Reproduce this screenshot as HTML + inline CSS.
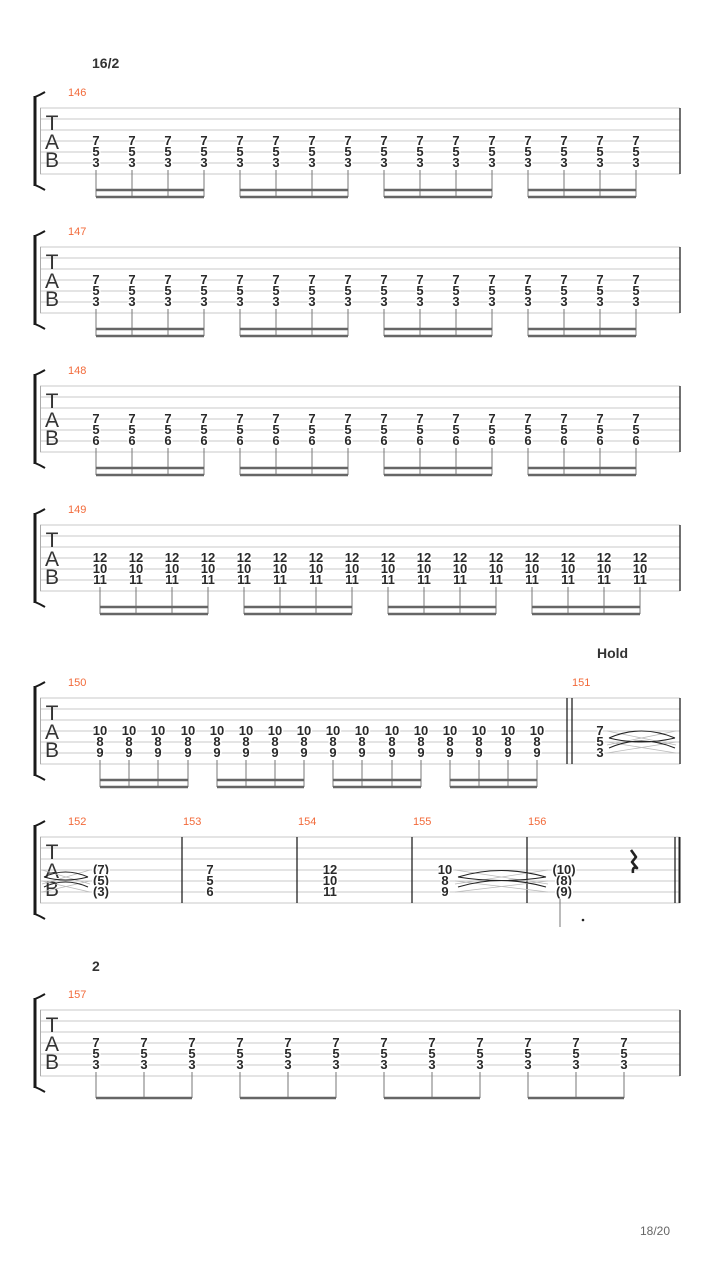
<!DOCTYPE html>
<html><head><meta charset="utf-8"><style>
html,body{margin:0;padding:0;background:#fff;}
svg{display:block;font-family:"Liberation Sans","DejaVu Sans",sans-serif;}
.n{font-size:13px;font-weight:bold;fill:#2a2a2a;text-anchor:middle;stroke:#fff;stroke-width:3px;paint-order:stroke;stroke-linejoin:round;}
.m{font-size:11px;fill:#f26a3a;}
.tab{font-size:21px;fill:#333;text-anchor:middle;}
.sl line{stroke:#c8c8c8;stroke-width:1;}
.st{stroke:#777;stroke-width:1;}
.bm{stroke:#666;stroke-width:2.5;}
.bar{stroke:#222;stroke-width:1.3;}
.br{fill:none;stroke:#1a1a1a;}
.tie{fill:none;stroke:#222;stroke-width:1.1;}
.tg{stroke:#bbb;stroke-width:0.8;}
</style></head><body>
<svg width="720" height="1280" viewBox="0 0 720 1280" xmlns="http://www.w3.org/2000/svg">
<defs>
<g id="staff">
<g class="sl"><line x1="40" x2="680" y1="0" y2="0"/><line x1="40" x2="680" y1="11" y2="11"/><line x1="40" x2="680" y1="22" y2="22"/><line x1="40" x2="680" y1="33" y2="33"/><line x1="40" x2="680" y1="44" y2="44"/><line x1="40" x2="680" y1="55" y2="55"/><line x1="40" x2="680" y1="66" y2="66"/></g>
<line x1="40.5" x2="40.5" y1="0" y2="66" stroke="#aaa"/>
<rect x="33.5" y="-12" width="3" height="90" fill="#1a1a1a"/>
<path class="br" stroke-width="2" d="M35,-11 Q40,-13 45,-16"/>
<path class="br" stroke-width="2" d="M35,77 Q40,79 45,82"/>
</g>
</defs>

<text x="92" y="68" style="font-size:14px;font-weight:bold;fill:#333">16/2</text>
<text x="597" y="658" style="font-size:14px;font-weight:bold;fill:#333">Hold</text>
<text x="92" y="971" style="font-size:14px;font-weight:bold;fill:#333">2</text>
<text x="640" y="1235" style="font-size:12px;fill:#666">18/20</text>

<!-- System 1 -->
<g transform="translate(0,108)">
<use href="#staff"/>
<text class="tab" x="52" y="22">T</text><text class="tab" x="52" y="41">A</text><text class="tab" x="52" y="59">B</text>
<text class="m" x="68" y="-12">146</text>
<line class="bar" x1="680" x2="680" y1="0" y2="66"/>
<g class="n">
<text x="96" y="37">7</text><text x="96" y="48">5</text><text x="96" y="59">3</text>
<text x="132" y="37">7</text><text x="132" y="48">5</text><text x="132" y="59">3</text>
<text x="168" y="37">7</text><text x="168" y="48">5</text><text x="168" y="59">3</text>
<text x="204" y="37">7</text><text x="204" y="48">5</text><text x="204" y="59">3</text>
<text x="240" y="37">7</text><text x="240" y="48">5</text><text x="240" y="59">3</text>
<text x="276" y="37">7</text><text x="276" y="48">5</text><text x="276" y="59">3</text>
<text x="312" y="37">7</text><text x="312" y="48">5</text><text x="312" y="59">3</text>
<text x="348" y="37">7</text><text x="348" y="48">5</text><text x="348" y="59">3</text>
<text x="384" y="37">7</text><text x="384" y="48">5</text><text x="384" y="59">3</text>
<text x="420" y="37">7</text><text x="420" y="48">5</text><text x="420" y="59">3</text>
<text x="456" y="37">7</text><text x="456" y="48">5</text><text x="456" y="59">3</text>
<text x="492" y="37">7</text><text x="492" y="48">5</text><text x="492" y="59">3</text>
<text x="528" y="37">7</text><text x="528" y="48">5</text><text x="528" y="59">3</text>
<text x="564" y="37">7</text><text x="564" y="48">5</text><text x="564" y="59">3</text>
<text x="600" y="37">7</text><text x="600" y="48">5</text><text x="600" y="59">3</text>
<text x="636" y="37">7</text><text x="636" y="48">5</text><text x="636" y="59">3</text>
</g>
<path class="st" d="M96,62V89M132,62V89M168,62V89M204,62V89M240,62V89M276,62V89M312,62V89M348,62V89M384,62V89M420,62V89M456,62V89M492,62V89M528,62V89M564,62V89M600,62V89M636,62V89"/>
<path class="bm" d="M96,82H204M96,89H204M240,82H348M240,89H348M384,82H492M384,89H492M528,82H636M528,89H636"/>
</g>

<!-- System 2 -->
<g transform="translate(0,247)">
<use href="#staff"/>
<text class="tab" x="52" y="22">T</text><text class="tab" x="52" y="41">A</text><text class="tab" x="52" y="59">B</text>
<text class="m" x="68" y="-12">147</text>
<line class="bar" x1="680" x2="680" y1="0" y2="66"/>
<g class="n">
<text x="96" y="37">7</text><text x="96" y="48">5</text><text x="96" y="59">3</text>
<text x="132" y="37">7</text><text x="132" y="48">5</text><text x="132" y="59">3</text>
<text x="168" y="37">7</text><text x="168" y="48">5</text><text x="168" y="59">3</text>
<text x="204" y="37">7</text><text x="204" y="48">5</text><text x="204" y="59">3</text>
<text x="240" y="37">7</text><text x="240" y="48">5</text><text x="240" y="59">3</text>
<text x="276" y="37">7</text><text x="276" y="48">5</text><text x="276" y="59">3</text>
<text x="312" y="37">7</text><text x="312" y="48">5</text><text x="312" y="59">3</text>
<text x="348" y="37">7</text><text x="348" y="48">5</text><text x="348" y="59">3</text>
<text x="384" y="37">7</text><text x="384" y="48">5</text><text x="384" y="59">3</text>
<text x="420" y="37">7</text><text x="420" y="48">5</text><text x="420" y="59">3</text>
<text x="456" y="37">7</text><text x="456" y="48">5</text><text x="456" y="59">3</text>
<text x="492" y="37">7</text><text x="492" y="48">5</text><text x="492" y="59">3</text>
<text x="528" y="37">7</text><text x="528" y="48">5</text><text x="528" y="59">3</text>
<text x="564" y="37">7</text><text x="564" y="48">5</text><text x="564" y="59">3</text>
<text x="600" y="37">7</text><text x="600" y="48">5</text><text x="600" y="59">3</text>
<text x="636" y="37">7</text><text x="636" y="48">5</text><text x="636" y="59">3</text>
</g>
<path class="st" d="M96,62V89M132,62V89M168,62V89M204,62V89M240,62V89M276,62V89M312,62V89M348,62V89M384,62V89M420,62V89M456,62V89M492,62V89M528,62V89M564,62V89M600,62V89M636,62V89"/>
<path class="bm" d="M96,82H204M96,89H204M240,82H348M240,89H348M384,82H492M384,89H492M528,82H636M528,89H636"/>
</g>

<!-- System 3 -->
<g transform="translate(0,386)">
<use href="#staff"/>
<text class="tab" x="52" y="22">T</text><text class="tab" x="52" y="41">A</text><text class="tab" x="52" y="59">B</text>
<text class="m" x="68" y="-12">148</text>
<line class="bar" x1="680" x2="680" y1="0" y2="66"/>
<g class="n">
<text x="96" y="37">7</text><text x="96" y="48">5</text><text x="96" y="59">6</text>
<text x="132" y="37">7</text><text x="132" y="48">5</text><text x="132" y="59">6</text>
<text x="168" y="37">7</text><text x="168" y="48">5</text><text x="168" y="59">6</text>
<text x="204" y="37">7</text><text x="204" y="48">5</text><text x="204" y="59">6</text>
<text x="240" y="37">7</text><text x="240" y="48">5</text><text x="240" y="59">6</text>
<text x="276" y="37">7</text><text x="276" y="48">5</text><text x="276" y="59">6</text>
<text x="312" y="37">7</text><text x="312" y="48">5</text><text x="312" y="59">6</text>
<text x="348" y="37">7</text><text x="348" y="48">5</text><text x="348" y="59">6</text>
<text x="384" y="37">7</text><text x="384" y="48">5</text><text x="384" y="59">6</text>
<text x="420" y="37">7</text><text x="420" y="48">5</text><text x="420" y="59">6</text>
<text x="456" y="37">7</text><text x="456" y="48">5</text><text x="456" y="59">6</text>
<text x="492" y="37">7</text><text x="492" y="48">5</text><text x="492" y="59">6</text>
<text x="528" y="37">7</text><text x="528" y="48">5</text><text x="528" y="59">6</text>
<text x="564" y="37">7</text><text x="564" y="48">5</text><text x="564" y="59">6</text>
<text x="600" y="37">7</text><text x="600" y="48">5</text><text x="600" y="59">6</text>
<text x="636" y="37">7</text><text x="636" y="48">5</text><text x="636" y="59">6</text>
</g>
<path class="st" d="M96,62V89M132,62V89M168,62V89M204,62V89M240,62V89M276,62V89M312,62V89M348,62V89M384,62V89M420,62V89M456,62V89M492,62V89M528,62V89M564,62V89M600,62V89M636,62V89"/>
<path class="bm" d="M96,82H204M96,89H204M240,82H348M240,89H348M384,82H492M384,89H492M528,82H636M528,89H636"/>
</g>

<!-- System 4 -->
<g transform="translate(0,525)">
<use href="#staff"/>
<text class="tab" x="52" y="22">T</text><text class="tab" x="52" y="41">A</text><text class="tab" x="52" y="59">B</text>
<text class="m" x="68" y="-12">149</text>
<line class="bar" x1="680" x2="680" y1="0" y2="66"/>
<g class="n">
<text x="100" y="37">12</text><text x="100" y="48">10</text><text x="100" y="59">11</text>
<text x="136" y="37">12</text><text x="136" y="48">10</text><text x="136" y="59">11</text>
<text x="172" y="37">12</text><text x="172" y="48">10</text><text x="172" y="59">11</text>
<text x="208" y="37">12</text><text x="208" y="48">10</text><text x="208" y="59">11</text>
<text x="244" y="37">12</text><text x="244" y="48">10</text><text x="244" y="59">11</text>
<text x="280" y="37">12</text><text x="280" y="48">10</text><text x="280" y="59">11</text>
<text x="316" y="37">12</text><text x="316" y="48">10</text><text x="316" y="59">11</text>
<text x="352" y="37">12</text><text x="352" y="48">10</text><text x="352" y="59">11</text>
<text x="388" y="37">12</text><text x="388" y="48">10</text><text x="388" y="59">11</text>
<text x="424" y="37">12</text><text x="424" y="48">10</text><text x="424" y="59">11</text>
<text x="460" y="37">12</text><text x="460" y="48">10</text><text x="460" y="59">11</text>
<text x="496" y="37">12</text><text x="496" y="48">10</text><text x="496" y="59">11</text>
<text x="532" y="37">12</text><text x="532" y="48">10</text><text x="532" y="59">11</text>
<text x="568" y="37">12</text><text x="568" y="48">10</text><text x="568" y="59">11</text>
<text x="604" y="37">12</text><text x="604" y="48">10</text><text x="604" y="59">11</text>
<text x="640" y="37">12</text><text x="640" y="48">10</text><text x="640" y="59">11</text>
</g>
<path class="st" d="M100,62V89M136,62V89M172,62V89M208,62V89M244,62V89M280,62V89M316,62V89M352,62V89M388,62V89M424,62V89M460,62V89M496,62V89M532,62V89M568,62V89M604,62V89M640,62V89"/>
<path class="bm" d="M100,82H208M100,89H208M244,82H352M244,89H352M388,82H496M388,89H496M532,82H640M532,89H640"/>
</g>

<!-- System 5 -->
<g transform="translate(0,698)">
<use href="#staff"/>
<text class="tab" x="52" y="22">T</text><text class="tab" x="52" y="41">A</text><text class="tab" x="52" y="59">B</text>
<text class="m" x="68" y="-12">150</text>
<text class="m" x="572" y="-12">151</text>
<line class="bar" x1="567" x2="567" y1="0" y2="66"/>
<line class="bar" x1="572" x2="572" y1="0" y2="66"/>
<line class="bar" x1="680" x2="680" y1="0" y2="66"/>
<g class="n">
<text x="100" y="37">10</text><text x="100" y="48">8</text><text x="100" y="59">9</text>
<text x="129" y="37">10</text><text x="129" y="48">8</text><text x="129" y="59">9</text>
<text x="158" y="37">10</text><text x="158" y="48">8</text><text x="158" y="59">9</text>
<text x="188" y="37">10</text><text x="188" y="48">8</text><text x="188" y="59">9</text>
<text x="217" y="37">10</text><text x="217" y="48">8</text><text x="217" y="59">9</text>
<text x="246" y="37">10</text><text x="246" y="48">8</text><text x="246" y="59">9</text>
<text x="275" y="37">10</text><text x="275" y="48">8</text><text x="275" y="59">9</text>
<text x="304" y="37">10</text><text x="304" y="48">8</text><text x="304" y="59">9</text>
<text x="333" y="37">10</text><text x="333" y="48">8</text><text x="333" y="59">9</text>
<text x="362" y="37">10</text><text x="362" y="48">8</text><text x="362" y="59">9</text>
<text x="392" y="37">10</text><text x="392" y="48">8</text><text x="392" y="59">9</text>
<text x="421" y="37">10</text><text x="421" y="48">8</text><text x="421" y="59">9</text>
<text x="450" y="37">10</text><text x="450" y="48">8</text><text x="450" y="59">9</text>
<text x="479" y="37">10</text><text x="479" y="48">8</text><text x="479" y="59">9</text>
<text x="508" y="37">10</text><text x="508" y="48">8</text><text x="508" y="59">9</text>
<text x="537" y="37">10</text><text x="537" y="48">8</text><text x="537" y="59">9</text>
<text x="600" y="37">7</text><text x="600" y="48">5</text><text x="600" y="59">3</text>
</g>
<path class="st" d="M100,62V89M129,62V89M158,62V89M188,62V89M217,62V89M246,62V89M275,62V89M304,62V89M333,62V89M362,62V89M392,62V89M421,62V89M450,62V89M479,62V89M508,62V89M537,62V89"/>
<path class="bm" d="M100,82H188M100,89H188M217,82H304M217,89H304M333,82H421M333,89H421M450,82H537M450,89H537"/>
<path class="tg" d="M607,33L676,47M607,47L676,33M607,44L676,55M607,55L676,44"/>
<path class="tie" d="M609,40Q641,26 675,40M609,40Q641,48 675,40M609,50Q641,36 675,50" stroke-width="1.3"/>
</g>

<!-- System 6 -->
<g transform="translate(0,837)">
<use href="#staff"/>
<text class="tab" x="52" y="22">T</text><text class="tab" x="52" y="41">A</text><text class="tab" x="52" y="59">B</text>
<text class="m" x="68" y="-12">152</text>
<text class="m" x="183" y="-12">153</text>
<text class="m" x="298" y="-12">154</text>
<text class="m" x="413" y="-12">155</text>
<text class="m" x="528" y="-12">156</text>
<line class="bar" x1="182" x2="182" y1="0" y2="66"/>
<line class="bar" x1="297" x2="297" y1="0" y2="66"/>
<line class="bar" x1="412" x2="412" y1="0" y2="66"/>
<line class="bar" x1="527" x2="527" y1="0" y2="66"/>
<line class="bar" x1="675" x2="675" y1="0" y2="66"/>
<line x1="679.5" x2="679.5" y1="0" y2="66" stroke="#222" stroke-width="2"/>
<g class="n">
<text x="101" y="37">(7)</text><text x="101" y="48">(5)</text><text x="101" y="59">(3)</text>
<text x="210" y="37">7</text><text x="210" y="48">5</text><text x="210" y="59">6</text>
<text x="330" y="37">12</text><text x="330" y="48">10</text><text x="330" y="59">11</text>
<text x="445" y="37">10</text><text x="445" y="48">8</text><text x="445" y="59">9</text>
<text x="564" y="37">(10)</text><text x="564" y="48">(8)</text><text x="564" y="59">(9)</text>
</g>
<path class="tg" d="M42,33L90,47M42,47L90,33M42,44L90,55M42,55L90,44M455,33L548,47M455,47L548,33M455,44L548,55M455,55L548,44"/>
<path class="tie" d="M44,40Q65,30 88,40M44,40Q65,46 88,40M44,50Q65,40 88,50" stroke-width="1.3"/>
<path class="tie" d="M458,40Q501,27 546,40M458,40Q501,47 546,40M458,50Q501,37 546,50" stroke-width="1.3"/>
<line class="st" x1="560" x2="560" y1="62" y2="90"/>
<circle cx="583" cy="83" r="1.3" fill="#222"/>
<path d="M631,13L636,20L632,25L637,31Q632,29 633,36" fill="none" stroke="#222" stroke-width="2.6" stroke-linejoin="round"/>
</g>

<!-- System 7 -->
<g transform="translate(0,1010)">
<use href="#staff"/>
<text class="tab" x="52" y="22">T</text><text class="tab" x="52" y="41">A</text><text class="tab" x="52" y="59">B</text>
<text class="m" x="68" y="-12">157</text>
<line class="bar" x1="680" x2="680" y1="0" y2="66"/>
<g class="n">
<text x="96" y="37">7</text><text x="96" y="48">5</text><text x="96" y="59">3</text>
<text x="144" y="37">7</text><text x="144" y="48">5</text><text x="144" y="59">3</text>
<text x="192" y="37">7</text><text x="192" y="48">5</text><text x="192" y="59">3</text>
<text x="240" y="37">7</text><text x="240" y="48">5</text><text x="240" y="59">3</text>
<text x="288" y="37">7</text><text x="288" y="48">5</text><text x="288" y="59">3</text>
<text x="336" y="37">7</text><text x="336" y="48">5</text><text x="336" y="59">3</text>
<text x="384" y="37">7</text><text x="384" y="48">5</text><text x="384" y="59">3</text>
<text x="432" y="37">7</text><text x="432" y="48">5</text><text x="432" y="59">3</text>
<text x="480" y="37">7</text><text x="480" y="48">5</text><text x="480" y="59">3</text>
<text x="528" y="37">7</text><text x="528" y="48">5</text><text x="528" y="59">3</text>
<text x="576" y="37">7</text><text x="576" y="48">5</text><text x="576" y="59">3</text>
<text x="624" y="37">7</text><text x="624" y="48">5</text><text x="624" y="59">3</text>
</g>
<path class="st" d="M96,62V88M144,62V88M192,62V88M240,62V88M288,62V88M336,62V88M384,62V88M432,62V88M480,62V88M528,62V88M576,62V88M624,62V88"/>
<path class="bm" stroke-width="3" d="M96,88H192M240,88H336M384,88H480M528,88H624"/>
</g>
</svg>
</body></html>
